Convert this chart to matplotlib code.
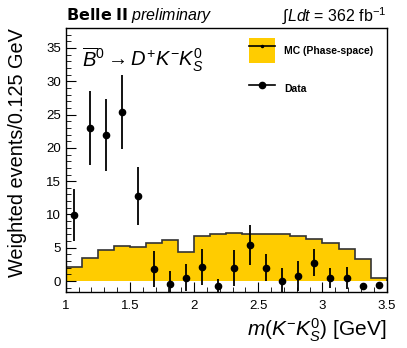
import numpy as np
import matplotlib
matplotlib.use("Agg")
import matplotlib.pyplot as plt
from matplotlib.ticker import MultipleLocator, FuncFormatter
from matplotlib.patches import Patch
from matplotlib.lines import Line2D

plt.rcParams["font.family"] = ["Liberation Sans", "DejaVu Sans"]
plt.rcParams["mathtext.fontset"] = "custom"
plt.rcParams["mathtext.rm"] = "Liberation Sans"
plt.rcParams["mathtext.it"] = "Liberation Sans:italic"

# MC (phase-space) histogram, 0.125 GeV bins from 1.0 to 3.5 GeV
bin_edges = np.arange(1.0, 3.5001, 0.125)
mc_counts = [2.05, 3.5, 4.65, 5.25, 5.15, 5.7, 6.1, 4.4, 6.8, 7.05,
             7.25, 7.05, 7.1, 7.1, 6.7, 6.35, 5.75, 4.85, 3.3, 0.45]

# Data points
data_x = [1.0625, 1.1875, 1.3125, 1.4375, 1.5625, 1.6875, 1.8125, 1.9375,
          2.0625, 2.1875, 2.3125, 2.4375, 2.5625, 2.6875, 2.8125, 2.9375,
          3.0625, 3.1875, 3.3125, 3.4375]
data_y = [9.9, 23.0, 21.9, 25.4, 12.8, 1.8, -0.4, 0.5,
          2.05, -0.8, 2.0, 5.35, 2.0, 0.0, 0.75, 2.75,
          0.45, 0.4, -0.8, -0.65]
data_err = [3.95, 5.6, 5.4, 5.6, 4.4, 2.7, 1.95, 2.0,
            2.7, 1.15, 2.7, 3.0, 2.0, 1.9, 2.2, 2.05,
            1.55, 1.65, 0.4, 0.2]

fig = plt.figure(figsize=(4.07, 3.48), dpi=100)
ax = fig.add_axes([0.1614, 0.1618, 0.7886, 0.7577])

yellow = "#FFCC00"
ax.stairs(mc_counts, bin_edges, fill=True, color=yellow, zorder=1)
ax.stairs(mc_counts, bin_edges, color="#333333", linewidth=1.2, zorder=2)

ax.errorbar(data_x, data_y, yerr=data_err, fmt="o", color="black",
            markersize=4.5, elinewidth=1.3, capsize=0, zorder=3)

ax.set_xlim(1.0, 3.5)
ax.set_ylim(-1.6, 38)
ax.xaxis.set_major_locator(MultipleLocator(0.5))
ax.xaxis.set_minor_locator(MultipleLocator(0.1))
ax.xaxis.set_major_formatter(FuncFormatter(lambda v, p: f"{v:g}"))
ax.yaxis.set_major_locator(MultipleLocator(5))
ax.yaxis.set_minor_locator(MultipleLocator(1))
ax.tick_params(which="both", direction="in", labelsize=9.5)
ax.tick_params(which="major", length=7)
ax.tick_params(which="minor", length=3.5)
ax.tick_params(axis="x", pad=6)
for s in ax.spines.values():
    s.set_linewidth(1.0)

ax.set_xlabel(r"$m(K^{-}K^{0}_{S})$ [GeV]", fontsize=15, loc="right",
              labelpad=3)
ax.set_ylabel("Weighted events/0.125 GeV", fontsize=14.3, loc="top",
              labelpad=14)

fig.text(0.162, 0.955, r"$\mathbf{Belle\ II}$ $\it{preliminary}$",
         fontsize=11.5, ha="left", va="center")
fig.text(0.95, 0.955, r"$\int\mathit{Ldt}$ = 362 fb$^{-1}$",
         fontsize=11.5, ha="right", va="center")
ax.text(0.05, 0.935, r"$\overline{B}^{0}\rightarrow D^{+}K^{-}K^{0}_{S}$",
        transform=ax.transAxes, fontsize=14.5, ha="left", va="top")

handles = [
    (Patch(facecolor=yellow, edgecolor="none"),
     Line2D([], [], color="black", linewidth=1.2, marker="o", markersize=1.5)),
    Line2D([], [], color="black", linewidth=1.2, marker="o", markersize=4.5),
]
ax.legend(handles, ["MC (Phase-space)", "Data"], loc="upper left",
          bbox_to_anchor=(0.54, 1.0), frameon=False,
          prop={"weight": "bold", "size": 7.5}, handlelength=2.5,
          handleheight=3.3, labelspacing=1.3, borderpad=0.5)

fig.savefig("out.png", dpi=100)
